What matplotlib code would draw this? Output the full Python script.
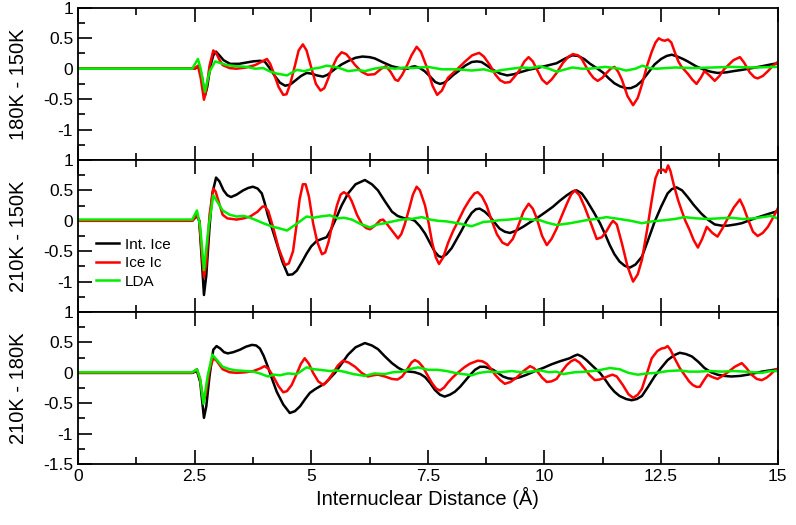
import matplotlib
matplotlib.use('Agg')
import matplotlib.pyplot as plt
from matplotlib.ticker import MultipleLocator

plt.rcParams['font.family'] = ['Liberation Sans', 'DejaVu Sans']

# (distance, value) pairs, one list per curve
# panel 1: 180K - 150K
int_180_150 = [(0, 0), (2.5, 0), (2.6, 0.04), (2.66, -0.15), (2.72, -0.45), (2.77, -0.3), (2.84, 0.05), (2.9, 0.22),
               (2.96, 0.28), (3.03, 0.22), (3.12, 0.14), (3.26, 0.08), (3.45, 0.08), (3.6, 0.1), (3.75, 0.12),
               (3.9, 0.13), (4.0, 0.12), (4.1, 0.02), (4.22, -0.12), (4.33, -0.23), (4.44, -0.28), (4.55, -0.26),
               (4.65, -0.2), (4.78, -0.12), (4.9, -0.07), (5.0, -0.08), (5.12, -0.11), (5.25, -0.13), (5.35, -0.1),
               (5.5, -0.01), (5.65, 0.07), (5.8, 0.13), (5.95, 0.18), (6.1, 0.2), (6.25, 0.19), (6.36, 0.17),
               (6.55, 0.1), (6.73, 0.04), (6.9, 0.01), (7.07, 0.0), (7.15, 0.03), (7.22, 0.04), (7.33, 0.01),
               (7.43, -0.04), (7.55, -0.13), (7.66, -0.22), (7.76, -0.25), (7.85, -0.23), (7.95, -0.17),
               (8.05, -0.1), (8.14, -0.05), (8.3, 0.05), (8.44, 0.11), (8.55, 0.12), (8.65, 0.11), (8.77, 0.05),
               (8.9, -0.02), (9.05, -0.08), (9.2, -0.11), (9.35, -0.09), (9.47, -0.06), (9.65, -0.02), (9.83, 0.01),
               (10.05, 0.05), (10.26, 0.09), (10.45, 0.17), (10.6, 0.22), (10.72, 0.21), (10.85, 0.16),
               (10.98, 0.08), (11.1, 0.02), (11.25, -0.06), (11.38, -0.16), (11.5, -0.24), (11.62, -0.29),
               (11.75, -0.32), (11.85, -0.32), (11.97, -0.28), (12.09, -0.2), (12.22, -0.07), (12.36, 0.07),
               (12.5, 0.16), (12.62, 0.21), (12.73, 0.23), (12.85, 0.2), (12.97, 0.16), (13.07, 0.12),
               (13.25, 0.04), (13.43, -0.02), (13.57, -0.05), (13.71, -0.07), (13.9, -0.06), (14.05, -0.04),
               (14.23, -0.02), (14.45, 0.01), (14.66, 0.04), (14.85, 0.07), (15.0, 0.09)]
ic_180_150 = [(0, 0), (2.5, 0), (2.57, 0.05), (2.63, -0.15), (2.7, -0.51), (2.75, -0.35), (2.82, 0.05), (2.9, 0.3),
              (2.96, 0.26), (3.03, 0.15), (3.1, 0.06), (3.25, 0.01), (3.4, 0.0), (3.6, 0.02), (3.8, 0.06),
              (3.95, 0.12), (4.05, 0.16), (4.12, 0.08), (4.2, -0.08), (4.3, -0.3), (4.4, -0.43), (4.47, -0.42),
              (4.55, -0.25), (4.65, 0.05), (4.73, 0.3), (4.82, 0.4), (4.9, 0.3), (5.0, 0.02), (5.1, -0.25),
              (5.2, -0.36), (5.28, -0.32), (5.36, -0.17), (5.44, 0.0), (5.55, 0.18), (5.65, 0.27), (5.75, 0.24),
              (5.85, 0.15), (5.94, 0.06), (6.08, -0.05), (6.21, -0.1), (6.36, -0.09), (6.5, 0.0), (6.6, 0.04),
              (6.7, -0.05), (6.8, -0.18), (6.86, -0.2), (6.95, -0.1), (7.05, 0.05), (7.15, 0.22), (7.26, 0.36),
              (7.35, 0.28), (7.48, 0.02), (7.6, -0.28), (7.7, -0.43), (7.8, -0.36), (7.93, -0.15), (8.14, 0.0),
              (8.3, 0.12), (8.45, 0.22), (8.6, 0.26), (8.7, 0.2), (8.83, 0.06), (8.95, -0.1), (9.05, -0.19),
              (9.15, -0.23), (9.26, -0.22), (9.37, -0.12), (9.47, -0.02), (9.57, 0.12), (9.66, 0.19),
              (9.75, 0.12), (9.83, 0.0), (9.95, -0.18), (10.05, -0.25), (10.15, -0.18), (10.26, -0.07),
              (10.4, 0.1), (10.52, 0.2), (10.61, 0.24), (10.72, 0.22), (10.8, 0.16), (10.9, 0.02), (10.97, -0.07),
              (11.05, -0.15), (11.14, -0.2), (11.24, -0.15), (11.33, -0.07), (11.42, 0.0), (11.5, 0.03),
              (11.58, -0.05), (11.66, -0.18), (11.78, -0.45), (11.9, -0.6), (12.0, -0.48), (12.09, -0.26),
              (12.2, 0.05), (12.3, 0.28), (12.38, 0.43), (12.45, 0.5), (12.52, 0.47), (12.58, 0.46),
              (12.65, 0.48), (12.72, 0.43), (12.79, 0.28), (12.87, 0.12), (12.94, 0.03), (13.07, -0.08),
              (13.17, -0.18), (13.26, -0.25), (13.35, -0.15), (13.43, -0.04), (13.55, -0.12), (13.65, -0.2),
              (13.75, -0.12), (13.85, -0.01), (13.93, 0.05), (14.05, 0.14), (14.19, 0.19), (14.28, 0.1),
              (14.4, -0.06), (14.5, -0.14), (14.57, -0.16), (14.68, -0.12), (14.79, -0.04), (14.9, 0.05),
              (15.0, 0.11)]
lda_180_150 = [(0, 0), (2.45, 0), (2.57, 0.16), (2.63, 0.0), (2.72, -0.38), (2.82, -0.05), (2.94, 0.12),
               (3.19, 0.06), (3.4, 0.04), (3.62, 0.03), (3.8, 0.0), (3.97, 0.01), (4.1, -0.04), (4.26, -0.08),
               (4.48, -0.11), (4.69, -0.02), (4.85, -0.04), (5.04, 0.0), (5.2, 0.02), (5.33, 0.05), (5.57, 0.02),
               (5.79, -0.04), (6.0, -0.02), (6.15, -0.04), (6.35, 0.0), (6.51, 0.02), (6.8, 0.0), (7.0, 0.02),
               (7.16, 0.01), (7.5, 0.03), (7.8, -0.01), (8.14, -0.01), (8.44, -0.03), (8.7, -0.01),
               (8.9, -0.05), (9.1, -0.02), (9.3, 0.0), (9.5, 0.02), (9.7, 0.01), (9.9, 0.04), (10.1, 0.0),
               (10.26, -0.05), (10.45, -0.01), (10.6, 0.02), (10.8, 0.0), (10.97, 0.0), (11.3, 0.03), (11.6, 0.0),
               (11.75, -0.03), (11.95, 0.0), (12.1, 0.05), (12.25, 0.01), (12.4, 0.0), (12.8, 0.02), (13.2, 0.01),
               (13.6, 0.02), (14.0, 0.03), (14.5, 0.02), (15.0, 0.03)]

# panel 2: 210K - 150K
int_210_150 = [(0, 0), (2.45, 0), (2.55, 0.08), (2.6, 0.0), (2.65, -0.6), (2.7, -1.22), (2.75, -0.9), (2.82, -0.1),
               (2.88, 0.45), (2.96, 0.71), (3.03, 0.65), (3.12, 0.5), (3.2, 0.42), (3.28, 0.39), (3.4, 0.43),
               (3.54, 0.5), (3.65, 0.54), (3.75, 0.56), (3.85, 0.53), (3.94, 0.45), (4.0, 0.3), (4.07, 0.09),
               (4.17, -0.15), (4.26, -0.37), (4.38, -0.67), (4.5, -0.89), (4.6, -0.88), (4.69, -0.82),
               (4.8, -0.68), (4.9, -0.54), (5.0, -0.42), (5.12, -0.33), (5.22, -0.3), (5.33, -0.27),
               (5.42, -0.15), (5.51, 0.0), (5.65, 0.25), (5.79, 0.45), (5.95, 0.6), (6.15, 0.67), (6.3, 0.6),
               (6.43, 0.5), (6.58, 0.32), (6.73, 0.15), (6.85, 0.08), (7.0, 0.04), (7.12, 0.03), (7.22, 0.0),
               (7.33, -0.09), (7.44, -0.21), (7.55, -0.37), (7.65, -0.51), (7.73, -0.58), (7.8, -0.6),
               (7.9, -0.55), (8.01, -0.45), (8.12, -0.3), (8.23, -0.15), (8.33, 0.0), (8.44, 0.13), (8.53, 0.19),
               (8.61, 0.2), (8.72, 0.15), (8.83, 0.07), (8.93, -0.03), (9.04, -0.13), (9.15, -0.18),
               (9.26, -0.2), (9.4, -0.16), (9.54, -0.1), (9.68, -0.03), (9.83, 0.04), (10.0, 0.13),
               (10.18, 0.23), (10.33, 0.33), (10.48, 0.42), (10.6, 0.48), (10.69, 0.5), (10.8, 0.45),
               (10.9, 0.34), (11.05, 0.15), (11.19, -0.04), (11.3, -0.22), (11.4, -0.4), (11.5, -0.55),
               (11.61, -0.67), (11.72, -0.74), (11.83, -0.77), (11.95, -0.72), (12.09, -0.59), (12.22, -0.32),
               (12.36, -0.02), (12.5, 0.23), (12.64, 0.45), (12.73, 0.52), (12.83, 0.55), (12.95, 0.5),
               (13.07, 0.39), (13.2, 0.26), (13.36, 0.12), (13.5, 0.02), (13.65, -0.06), (13.8, -0.08),
               (13.93, -0.08), (14.1, -0.06), (14.23, -0.04), (14.37, 0.0), (14.51, 0.04), (14.75, 0.1),
               (15.0, 0.16)]
ic_210_150 = [(0, 0), (2.45, 0), (2.55, 0.1), (2.6, 0.0), (2.65, -0.5), (2.7, -0.93), (2.75, -0.7), (2.82, 0.1),
              (2.9, 0.53), (2.95, 0.48), (3.02, 0.3), (3.1, 0.1), (3.2, 0.04), (3.4, 0.02), (3.55, 0.04),
              (3.69, 0.07), (3.85, 0.15), (3.95, 0.23), (4.0, 0.24), (4.08, 0.16), (4.18, -0.1), (4.3, -0.45),
              (4.44, -0.73), (4.52, -0.7), (4.61, -0.5), (4.68, -0.1), (4.75, 0.35), (4.82, 0.6), (4.88, 0.6),
              (4.95, 0.4), (5.04, -0.04), (5.13, -0.35), (5.23, -0.55), (5.3, -0.52), (5.37, -0.35),
              (5.44, -0.1), (5.55, 0.25), (5.63, 0.43), (5.7, 0.47), (5.8, 0.42), (5.87, 0.32), (5.98, 0.1),
              (6.09, -0.06), (6.18, -0.12), (6.26, -0.14), (6.38, -0.07), (6.48, 0.01), (6.54, 0.02),
              (6.62, -0.05), (6.73, -0.16), (6.86, -0.29), (6.93, -0.22), (7.0, -0.07), (7.1, 0.2), (7.18, 0.43),
              (7.26, 0.56), (7.33, 0.5), (7.44, 0.25), (7.52, -0.05), (7.59, -0.35), (7.67, -0.6), (7.74, -0.71),
              (7.83, -0.6), (7.93, -0.37), (8.04, -0.17), (8.14, -0.02), (8.28, 0.2), (8.4, 0.35), (8.5, 0.45),
              (8.57, 0.47), (8.66, 0.4), (8.76, 0.25), (8.87, 0.0), (8.98, -0.22), (9.1, -0.36), (9.21, -0.4),
              (9.32, -0.3), (9.43, -0.1), (9.55, 0.15), (9.66, 0.28), (9.75, 0.2), (9.83, 0.05), (9.95, -0.25),
              (10.05, -0.4), (10.15, -0.3), (10.26, -0.13), (10.37, 0.08), (10.48, 0.28), (10.57, 0.43),
              (10.65, 0.5), (10.75, 0.42), (10.86, 0.23), (11.0, -0.05), (11.12, -0.3), (11.23, -0.27),
              (11.33, -0.17), (11.42, -0.05), (11.47, 0.0), (11.55, -0.06), (11.66, -0.37), (11.78, -0.75),
              (11.9, -1.0), (12.0, -0.88), (12.09, -0.64), (12.2, -0.15), (12.3, 0.34), (12.38, 0.7),
              (12.45, 0.83), (12.55, 0.84), (12.6, 0.8), (12.65, 0.91), (12.7, 0.82), (12.77, 0.6), (12.86, 0.35),
              (12.94, 0.17), (13.02, 0.0), (13.11, -0.15), (13.2, -0.32), (13.29, -0.44), (13.38, -0.3),
              (13.48, -0.1), (13.6, -0.2), (13.71, -0.26), (13.82, -0.12), (13.93, 0.04), (14.06, 0.22),
              (14.19, 0.35), (14.27, 0.22), (14.36, 0.03), (14.47, -0.18), (14.57, -0.25), (14.68, -0.2),
              (14.79, -0.1), (14.9, 0.05), (15.0, 0.2)]
lda_210_150 = [(0, 0.02), (2.45, 0.02), (2.55, 0.17), (2.62, -0.1), (2.7, -0.81), (2.8, -0.1), (2.9, 0.42),
               (3.1, 0.17), (3.25, 0.1), (3.4, 0.07), (3.55, 0.08), (3.69, 0.05), (3.85, 0.0), (3.97, -0.04),
               (4.18, -0.1), (4.3, -0.12), (4.48, -0.16), (4.65, -0.07), (4.9, 0.07), (5.05, 0.05), (5.19, 0.07),
               (5.4, 0.09), (5.57, 0.04), (5.7, 0.05), (5.87, 0.02), (6.05, -0.05), (6.26, -0.11), (6.42, -0.06),
               (6.58, -0.04), (6.75, -0.01), (6.94, 0.02), (7.15, 0.03), (7.37, 0.06), (7.55, 0.02), (7.71, 0.0),
               (7.9, -0.01), (8.14, -0.04), (8.44, -0.09), (8.69, -0.02), (8.85, -0.01), (9.04, 0.01),
               (9.25, 0.02), (9.47, 0.04), (9.7, 0.02), (9.9, 0.01), (10.05, -0.03), (10.26, -0.07),
               (10.55, -0.04), (10.9, 0.01), (11.1, 0.03), (11.33, 0.06), (11.6, 0.03), (11.85, 0.0),
               (12.09, -0.04), (12.3, -0.01), (12.58, 0.01), (12.8, 0.03), (13.0, 0.06), (13.25, 0.04),
               (13.5, 0.03), (13.75, 0.04), (14.0, 0.05), (14.25, 0.03), (14.5, 0.04), (14.85, 0.08), (15.0, 0.04)]

# panel 3: 210K - 180K
int_210_180 = [(0, 0), (2.45, 0), (2.55, 0.03), (2.62, -0.15), (2.66, -0.45), (2.7, -0.74), (2.75, -0.55),
               (2.82, -0.05), (2.9, 0.38), (2.97, 0.44), (3.05, 0.4), (3.13, 0.34), (3.21, 0.32), (3.33, 0.34),
               (3.47, 0.38), (3.6, 0.43), (3.73, 0.46), (3.82, 0.45), (3.9, 0.4), (3.98, 0.28), (4.07, 0.1),
               (4.16, -0.1), (4.26, -0.31), (4.4, -0.52), (4.54, -0.66), (4.65, -0.63), (4.76, -0.55),
               (4.87, -0.43), (4.97, -0.33), (5.08, -0.27), (5.19, -0.22), (5.3, -0.17), (5.4, -0.09),
               (5.51, 0.0), (5.65, 0.15), (5.79, 0.3), (5.95, 0.42), (6.15, 0.49), (6.3, 0.45), (6.43, 0.39),
               (6.58, 0.27), (6.73, 0.16), (6.87, 0.08), (7.0, 0.03), (7.22, 0.01), (7.34, -0.02), (7.44, -0.07),
               (7.55, -0.17), (7.65, -0.28), (7.76, -0.36), (7.86, -0.39), (7.97, -0.36), (8.08, -0.31),
               (8.19, -0.23), (8.29, -0.14), (8.4, -0.04), (8.51, 0.05), (8.62, 0.1), (8.72, 0.1), (8.9, 0.05),
               (9.0, 0.0), (9.11, -0.06), (9.22, -0.09), (9.33, -0.1), (9.48, -0.07), (9.62, -0.03), (9.8, 0.03),
               (9.97, 0.08), (10.15, 0.14), (10.33, 0.19), (10.54, 0.24), (10.64, 0.28), (10.71, 0.3),
               (10.8, 0.27), (10.9, 0.21), (11.05, 0.1), (11.19, 0.0), (11.3, -0.11), (11.4, -0.22),
               (11.5, -0.31), (11.61, -0.38), (11.75, -0.43), (11.87, -0.45), (11.98, -0.43), (12.09, -0.38),
               (12.22, -0.23), (12.36, -0.06), (12.5, 0.08), (12.64, 0.21), (12.78, 0.29), (12.9, 0.33),
               (13.03, 0.31), (13.16, 0.27), (13.3, 0.18), (13.43, 0.08), (13.57, 0.01), (13.71, -0.03),
               (13.85, -0.05), (14.01, -0.06), (14.2, -0.05), (14.36, -0.03), (14.66, 0.02), (15.0, 0.06)]
ic_210_180 = [(0, 0), (2.45, 0), (2.55, 0.06), (2.62, -0.12), (2.69, -0.47), (2.74, -0.35), (2.82, 0.05),
              (2.9, 0.24), (2.97, 0.2), (3.1, 0.06), (3.25, 0.01), (3.4, 0.0), (3.6, 0.01), (3.76, 0.03),
              (3.9, 0.07), (4.0, 0.11), (4.08, 0.07), (4.18, -0.05), (4.3, -0.22), (4.4, -0.32), (4.48, -0.3),
              (4.58, -0.2), (4.68, -0.03), (4.78, 0.15), (4.86, 0.24), (4.95, 0.15), (5.04, 0.0), (5.15, -0.14),
              (5.26, -0.2), (5.36, -0.12), (5.47, 0.0), (5.57, 0.12), (5.68, 0.2), (5.8, 0.17), (5.94, 0.1),
              (6.08, 0.0), (6.21, -0.06), (6.33, -0.04), (6.43, -0.03), (6.58, -0.06), (6.73, -0.1),
              (6.85, -0.11), (6.95, -0.06), (7.05, 0.05), (7.15, 0.17), (7.22, 0.21), (7.3, 0.18), (7.39, 0.1),
              (7.5, -0.05), (7.59, -0.17), (7.68, -0.26), (7.76, -0.29), (7.85, -0.24), (7.93, -0.16),
              (8.04, -0.07), (8.14, 0.0), (8.28, 0.09), (8.4, 0.15), (8.57, 0.2), (8.67, 0.19), (8.76, 0.15),
              (8.85, 0.07), (8.94, -0.03), (9.05, -0.12), (9.15, -0.18), (9.27, -0.15), (9.4, -0.08),
              (9.55, 0.03), (9.69, 0.11), (9.77, 0.08), (9.85, 0.02), (9.95, -0.08), (10.05, -0.15),
              (10.15, -0.14), (10.26, -0.1), (10.37, 0.02), (10.48, 0.13), (10.57, 0.19), (10.65, 0.22),
              (10.75, 0.17), (10.86, 0.07), (10.97, -0.04), (11.08, -0.12), (11.18, -0.11), (11.29, -0.08),
              (11.38, -0.05), (11.46, -0.03), (11.55, -0.06), (11.68, -0.2), (11.8, -0.35), (11.9, -0.41),
              (12.0, -0.36), (12.09, -0.26), (12.2, 0.0), (12.3, 0.24), (12.42, 0.36), (12.51, 0.4),
              (12.58, 0.41), (12.64, 0.44), (12.7, 0.38), (12.79, 0.24), (12.9, 0.08), (13.0, -0.03),
              (13.1, -0.14), (13.18, -0.2), (13.26, -0.23), (13.33, -0.23), (13.42, -0.12), (13.5, -0.03),
              (13.6, -0.07), (13.71, -0.1), (13.82, -0.05), (13.93, 0.01), (14.08, 0.1), (14.23, 0.16),
              (14.33, 0.08), (14.44, -0.03), (14.55, -0.1), (14.66, -0.12), (14.76, -0.08), (14.84, -0.03),
              (14.92, 0.03), (15.0, 0.07)]
lda_210_180 = [(0, 0.01), (2.45, 0.01), (2.55, 0.06), (2.62, -0.1), (2.69, -0.51), (2.78, -0.05), (2.88, 0.3),
               (3.1, 0.1), (3.25, 0.06), (3.4, 0.04), (3.6, 0.03), (3.76, 0.02), (3.9, -0.01), (4.07, -0.06),
               (4.2, -0.03), (4.33, -0.04), (4.5, -0.01), (4.69, -0.02), (4.9, 0.09), (5.05, 0.06), (5.19, 0.05),
               (5.4, 0.03), (5.55, 0.04), (5.7, 0.02), (5.9, -0.02), (6.15, -0.05), (6.35, -0.01), (6.58, -0.02),
               (6.75, 0.01), (6.94, 0.02), (7.1, 0.06), (7.29, 0.09), (7.5, 0.05), (7.71, 0.05), (7.9, 0.03),
               (8.08, 0.0), (8.25, -0.02), (8.44, -0.04), (8.6, 0.0), (8.8, 0.02), (9.05, 0.01), (9.3, 0.03),
               (9.5, 0.01), (9.7, 0.02), (9.9, 0.04), (10.1, 0.01), (10.25, 0.02), (10.4, -0.02), (10.65, 0.01),
               (10.9, 0.02), (11.15, 0.04), (11.4, 0.08), (11.61, 0.06), (11.8, 0.0), (12.0, -0.03),
               (12.2, -0.01), (12.4, 0.0), (12.65, 0.03), (12.9, 0.04), (13.1, 0.02), (13.3, 0.02), (13.55, 0.03),
               (13.8, 0.02), (14.05, 0.03), (14.3, 0.02), (14.66, 0.0), (14.85, 0.03), (15.0, 0.03)]

panel_labels = ['180K - 150K', '210K - 150K', '210K - 180K']
series_names = ['Int. Ice', 'Ice Ic', 'LDA']
series_colors = ['black', '#ff0000', '#00ee00']
panels = [[int_180_150, ic_180_150, lda_180_150],
          [int_210_150, ic_210_150, lda_210_150],
          [int_210_180, ic_210_180, lda_210_180]]

xticks = [0, 2.5, 5, 7.5, 10, 12.5, 15]
xticklabels = ['0', '2.5', '5', '7.5', '10', '12.5', '15']
yticks_top = [-1, -0.5, 0, 0.5, 1]
yticks_bottom = [-1.5, -1, -0.5, 0, 0.5, 1]

fig, axes = plt.subplots(3, 1, sharex=True, figsize=(7.96, 5.25), dpi=100)
fig.subplots_adjust(left=0.098, right=0.977, top=0.985, bottom=0.116, hspace=0)

for i, ax in enumerate(axes):
    for data, name, col in zip(panels[i], series_names, series_colors):
        xs, ys = zip(*data)
        ax.plot(xs, ys, color=col, lw=1.8, label=name)
    ax.set_xlim(0, 15)
    ax.set_ylim(-1.5, 1)
    yt = yticks_bottom if i == 2 else yticks_top
    ax.set_yticks(yt)
    ax.set_yticklabels(['%g' % v for v in yt])
    ax.yaxis.set_minor_locator(MultipleLocator(0.25))
    ax.xaxis.set_minor_locator(MultipleLocator(1.25))
    ax.tick_params(which='both', direction='in', top=True, right=False, labelsize=12.5, width=1.2)
    ax.tick_params(which='major', length=10)
    ax.tick_params(which='minor', length=5)
    ax.set_ylabel(panel_labels[i], fontsize=14.5, labelpad=11)
    for s in ax.spines.values():
        s.set_linewidth(1.3)

axes[2].set_xticks(xticks)
axes[2].set_xticklabels(xticklabels)
axes[2].set_xlabel('Internuclear Distance (Å)', fontsize=14.5, labelpad=2)
fig.align_ylabels(axes)

axes[1].legend(loc='upper left', bbox_to_anchor=(0.026, 0.49), frameon=False, fontsize=11,
               handlelength=1.5, handletextpad=0.4, labelspacing=0.3, borderpad=0, borderaxespad=0)

fig.savefig('out.png', dpi=100, facecolor='white')
